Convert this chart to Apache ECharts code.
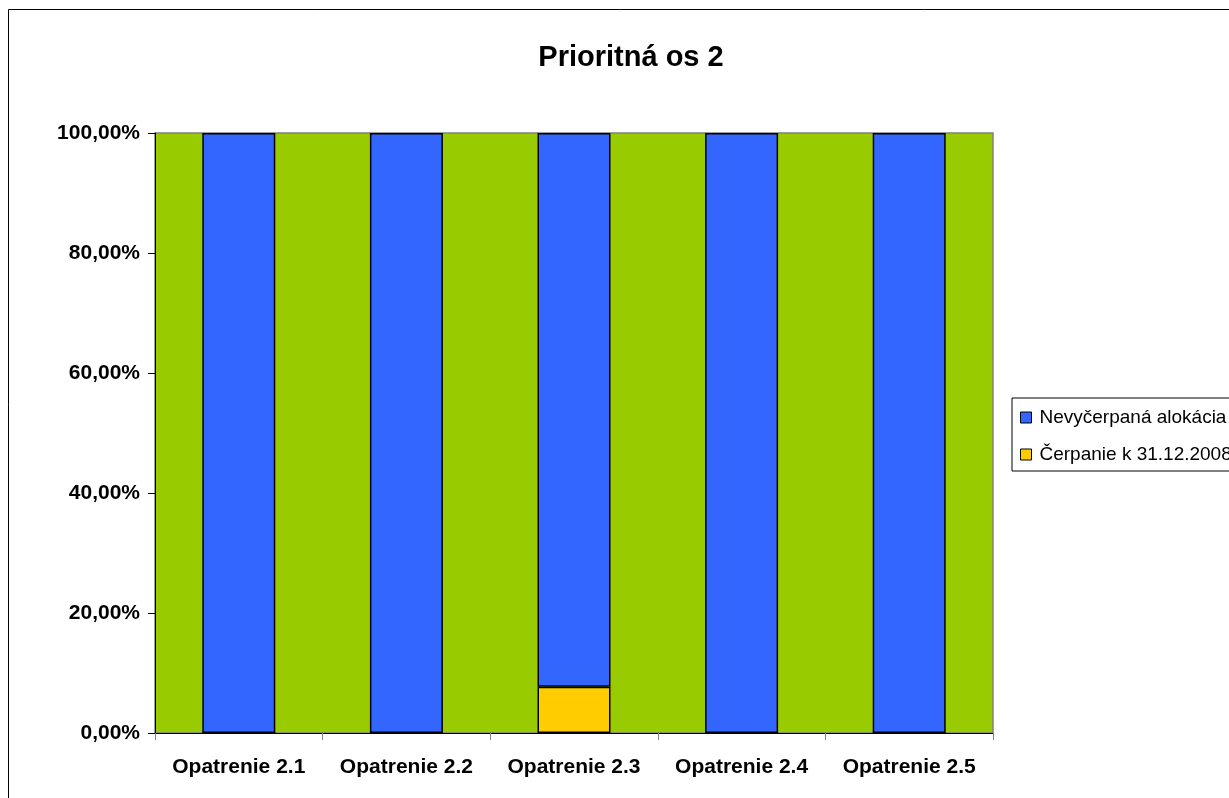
<!DOCTYPE html>
<html>
<head>
<meta charset="utf-8">
<script src="https://cdn.jsdelivr.net/npm/echarts@6/dist/echarts.min.js"></script>
<style>
html,body{margin:0;padding:0;background:#fff;}
#chart{width:1229px;height:798px;}
</style>
</head>
<body>
<div id="chart"></div>
<script>
const categories = ['Opatrenie 2.1', 'Opatrenie 2.2', 'Opatrenie 2.3', 'Opatrenie 2.4', 'Opatrenie 2.5'];
const cerpanie = [0, 0, 7.7, 0, 0];
const nevycerpana = [100, 100, 92.3, 100, 100];
const seriesNames = ['Nevyčerpaná alokácia', 'Čerpanie k 31.12.2008'];
const titleText = 'Prioritná os 2';

const FONT = '"Liberation Sans", Arial, sans-serif';
const chart = echarts.init(document.getElementById('chart'), null, {renderer: 'canvas'});
chart.setOption({
  animation: false,
  backgroundColor: '#ffffff',
  title: {
    text: titleText,
    left: 626,
    top: 38,
    textAlign: 'center',
    textStyle: {fontFamily: FONT, fontSize: 29, fontWeight: 'bold', color: '#000'}
  },
  graphic: [{
    type: 'rect',
    shape: {x: 8.5, y: 9.5, width: 1400, height: 1000},
    style: {fill: 'none', stroke: '#000', lineWidth: 1},
    z: -10, silent: true
  }],
  legend: {
    orient: 'vertical',
    left: 1012,
    top: 398,
    padding: [10, 40, 7, 8],
    itemGap: 18,
    itemWidth: 11,
    itemHeight: 11,
    icon: 'rect',
    borderColor: '#000',
    borderWidth: 1,
    data: seriesNames,
    itemStyle: {borderColor: '#000', borderWidth: 1},
    textStyle: {fontFamily: FONT, fontSize: 19, color: '#000', padding: [0, 0, 0, 3]}
  },
  grid: {
    left: 155, right: 236, top: 133, bottom: 65,
    show: true,
    backgroundColor: '#99CC00',
    borderColor: '#808080',
    borderWidth: 1.5
  },
  xAxis: {
    type: 'category',
    data: categories,
    axisLine: {lineStyle: {color: '#000', width: 1}},
    axisTick: {show: true, interval: 0, length: 7, lineStyle: {color: '#808080'}},
    axisLabel: {interval: 0, fontFamily: FONT, fontSize: 21, fontWeight: 'bold', color: '#000', margin: 24}
  },
  yAxis: {
    type: 'value',
    min: 0, max: 100, interval: 20,
    axisLine: {show: true, lineStyle: {color: '#000', width: 1}},
    axisTick: {show: true, length: 7, lineStyle: {color: '#000'}},
    splitLine: {show: false},
    axisLabel: {
      fontFamily: FONT, fontSize: 21, fontWeight: 'bold', color: '#000', margin: 15,
      formatter: v => v.toFixed(2).replace('.', ',') + '%'
    }
  },
  series: [
    {
      name: seriesNames[1],
      type: 'bar',
      stack: 'total',
      barWidth: 73,
      data: cerpanie,
      itemStyle: {color: '#FFCC00', borderColor: '#000', borderWidth: 1.5}
    },
    {
      name: seriesNames[0],
      type: 'bar',
      stack: 'total',
      barWidth: 73,
      data: nevycerpana,
      itemStyle: {color: '#3366FF', borderColor: '#000', borderWidth: 1.5}
    }
  ]
});
</script>
</body>
</html>
